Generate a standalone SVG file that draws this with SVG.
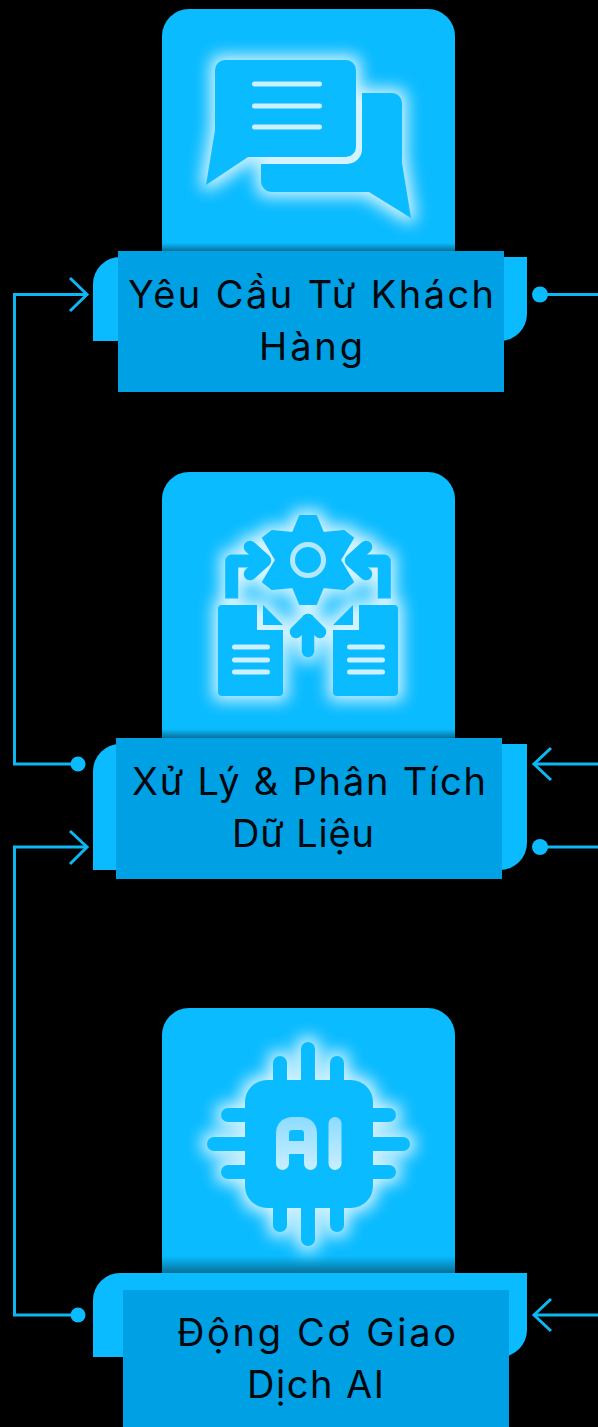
<svg xmlns="http://www.w3.org/2000/svg" width="598" height="1427" viewBox="0 0 598 1427">
<style>
.card{fill:#0abbff}
.tab{fill:#0abbff}
.label{fill:#00a0e4}
.txt{font-family:"Inter","Noto Sans","Liberation Sans",sans-serif;font-size:38px;fill:#00070c;text-anchor:middle}
.conn{fill:none;stroke:#0db8f2;stroke-width:3}
.dot{fill:#0abbff}
.lt{fill:none;stroke:#cdf0ff;stroke-width:5;stroke-linecap:round}
.st{fill:none;stroke:#0abbff;stroke-width:12.5;stroke-linecap:round;stroke-linejoin:round}
.sb{fill:none;stroke:#0abbff;stroke-width:13;stroke-linecap:butt;stroke-linejoin:round}
</style>
<defs>
<filter id="glow" x="-30%" y="-30%" width="160%" height="160%" color-interpolation-filters="sRGB">
<feMorphology in="SourceAlpha" operator="dilate" radius="5" result="d"/>
<feGaussianBlur in="d" stdDeviation="8" result="b"/>
<feFlood flood-color="#d4f3ff" flood-opacity="1"/>
<feComposite in2="b" operator="in" result="g"/>
<feMerge><feMergeNode in="g"/><feMergeNode in="SourceGraphic"/></feMerge>
</filter>
<linearGradient id="shade" x1="0" y1="0" x2="0" y2="1">
<stop offset="0" stop-color="#000" stop-opacity="0"/>
<stop offset="1" stop-color="#000" stop-opacity=".4"/>
</linearGradient>
<linearGradient id="aifill" gradientUnits="userSpaceOnUse" x1="0" y1="1117" x2="0" y2="1170">
<stop offset="0" stop-color="#8edcff"/>
<stop offset="1" stop-color="#c8efff"/>
</linearGradient>
</defs>
<rect width="598" height="1427" fill="#000"/>

<g id="connectors">
<path class="conn" d="M87,294.500H14.500V764H78"/>
<path class="conn" d="M70,278L87,294.500L70,311"/>
<path class="conn" d="M87,847H14.500V1315H78"/>
<path class="conn" d="M70,831L87,847L70,864"/>
<path class="conn" d="M540,294.500H598"/>
<path class="conn" d="M598,764H534"/>
<path class="conn" d="M551,748L534,764L551,780"/>
<path class="conn" d="M540,847H598"/>
<path class="conn" d="M598,1315H534"/>
<path class="conn" d="M551,1299L534,1315L551,1331"/>
<circle class="dot" cx="78" cy="764" r="7.500"/>
<circle class="dot" cx="78" cy="1315" r="7.500"/>
<circle class="dot" cx="540" cy="294.500" r="8"/>
<circle class="dot" cx="540" cy="847" r="8"/>
</g>

<g id="node-1">
<path class="card" d="M162,251V36a27,27 0 0 1 27,-27H428a27,27 0 0 1 27,27V251Z"/>
<rect x="162" y="243" width="293" height="8" fill="url(#shade)"/>
<g filter="url(#glow)">
<path fill="#0abbff" d="M225,60H346a10,10 0 0 1 10,10V147a10,10 0 0 1 -10,10H248L206,185L215,130V70a10,10 0 0 1 10,-10Z"/>
<path fill="#0abbff" d="M362,93H392a10,10 0 0 1 10,10V163L411,218L369,192H272a11,11 0 0 1 -11,-11V164H347a15,15 0 0 0 15,-15Z"/>
</g>
<path class="lt" d="M254.500,84H319.500M254.500,106H319.500M254.500,127H319.500"/>
<path class="tab" d="M93,341V284a27,27 0 0 1 27,-27H527V314a27,27 0 0 1 -27,27Z"/>
<rect class="label" x="118" y="251" width="386" height="141"/>
<text class="txt" x="311" y="308" textLength="366" lengthAdjust="spacing">Yêu Cầu Từ Khách</text>
<text class="txt" x="311" y="360" textLength="104" lengthAdjust="spacing">Hàng</text>
</g>

<g id="node-2">
<path class="card" d="M162,738V499a27,27 0 0 1 27,-27H428a27,27 0 0 1 27,27V738Z"/>
<rect x="162" y="729" width="293" height="9" fill="url(#shade)"/>
<g filter="url(#glow)">
<path fill="#0abbff" stroke="#0abbff" stroke-width="2" stroke-linejoin="round" d="M300,516H316L323,533L344,531L353,538L340,560L353,582L344,589L323,587L316,604H300L293,587L272,589L263,582L276,560L263,538L272,531L293,533Z"/>
<path class="sb" d="M231.700,598.500V561H258"/>
<path class="st" d="M250,547L265,560.500L250,574"/>
<path class="sb" d="M384.300,598.500V561H358"/>
<path class="st" d="M366,547L351,560.500L366,574"/>
<path fill="#0abbff" d="M222,605H257V630H283V692a4,4 0 0 1 -4,4H222a4,4 0 0 1 -4,-4V609a4,4 0 0 1 4,-4Z"/>
<path fill="#0abbff" d="M263,605L283,625H263Z"/>
<path fill="#0abbff" d="M394,605H359V630H333V692a4,4 0 0 0 4,4H394a4,4 0 0 0 4,-4V609a4,4 0 0 0 -4,-4Z"/>
<path fill="#0abbff" d="M353,605L333,625H353Z"/>
<path class="st" d="M308,651V620"/>
<path class="st" d="M296,632L308,620L320,632"/>
</g>
<circle cx="308" cy="560" r="15.500" fill="none" stroke="#b4e8ff" stroke-width="5"/>
<path class="lt" d="M234.500,647H267.500M234.500,660H267.500M234.500,672H267.500"/>
<path class="lt" d="M349.500,647H382.500M349.500,660H382.500M349.500,672H382.500"/>
<path class="tab" d="M93,870V771a27,27 0 0 1 27,-27H527V843a27,27 0 0 1 -27,27Z"/>
<rect class="label" x="116" y="738" width="386" height="141"/>
<text class="txt" x="309" y="795" textLength="354" lengthAdjust="spacing">Xử Lý &amp; Phân Tích</text>
<text class="txt" x="303" y="847" textLength="142" lengthAdjust="spacing">Dữ Liệu</text>
</g>

<g id="node-3">
<path class="card" d="M162,1273V1035a27,27 0 0 1 27,-27H428a27,27 0 0 1 27,27V1273Z"/>
<rect x="162" y="1256" width="293" height="17" fill="url(#shade)"/>
<g filter="url(#glow)">
<rect x="245" y="1080" width="128" height="128" rx="22" fill="#0abbff"/>
<path fill="none" stroke="#0abbff" stroke-width="14" stroke-linecap="round" d="M280,1063V1085M308,1049V1085M337,1063V1085M280,1225V1205M308,1239V1205M337,1225V1205M228,1115H250M214,1144H250M228,1172H250M389,1115H368M403,1144H368M389,1172H368"/>
</g>
<path fill="none" stroke="url(#aifill)" stroke-width="13" stroke-linecap="round" stroke-linejoin="round" d="M282.500,1163.500V1134Q282.500,1123.500 293,1123.500H300Q310.500,1123.500 310.500,1134V1163.500M282.500,1147.500H310.500"/>
<rect x="328.500" y="1117" width="13" height="53" rx="6.500" fill="url(#aifill)"/>
<path class="tab" d="M93,1357V1300a27,27 0 0 1 27,-27H527V1330a27,27 0 0 1 -27,27Z"/>
<rect class="label" x="123" y="1290" width="386" height="137"/>
<text class="txt" x="316.500" y="1346" textLength="279" lengthAdjust="spacing">Động Cơ Giao</text>
<text class="txt" x="315.500" y="1398" textLength="137" lengthAdjust="spacing">Dịch AI</text>
</g>
</svg>
